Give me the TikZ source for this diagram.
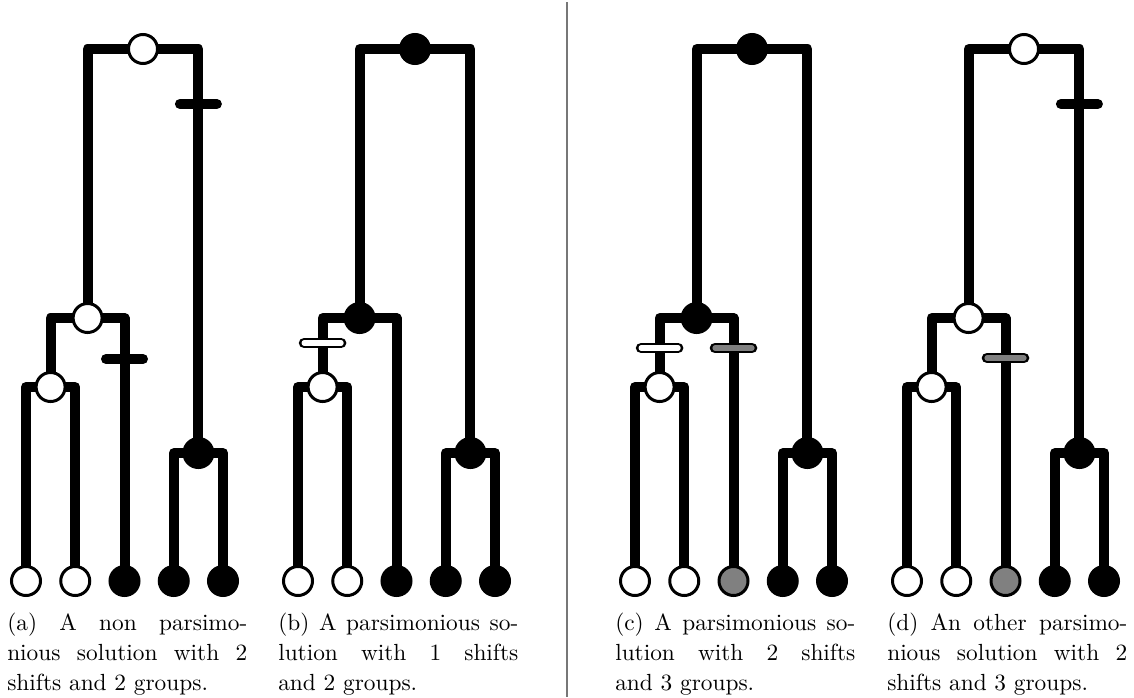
\documentclass[tikz,border=0pt]{standalone}
\usetikzlibrary{backgrounds}
\definecolor{shiftgray}{HTML}{808080}
\definecolor{sepgray}{HTML}{777777}
\newcommand\blackbar[2]{\draw[blackbarstyle] (#1-18.5,#2) -- (#1+18.5,#2);}
\newcommand\colbar[3]{\draw[barouter] (#1-18.5,#2) -- (#1+18.5,#2);
  \draw[barinner,#3] (#1-18.5,#2) -- (#1+18.5,#2);}
\newcommand\captxt[1]{\scalebox{1.75}{\parbox[t]{102.9pt}{\fontsize{10}{12.9}\selectfont #1}}}
\begin{document}
\begin{tikzpicture}[x=0.75pt,y=-0.75pt,
  edge/.style={line width=7.5pt,line cap=round,line join=round},
  tnode/.style={circle,draw=black,line width=2.25pt,inner sep=0pt,minimum size=21.75pt},
  wn/.style={tnode,fill=white},
  bn/.style={tnode,fill=black},
  gn/.style={tnode,fill=shiftgray},
  blackbarstyle/.style={line width=7.5pt,line cap=round},
  barouter/.style={line width=8pt,line cap=round,draw=black},
  barinner/.style={line width=3.9pt,line cap=round},
  captext/.style={inner sep=0pt,anchor=north west}]
\useasboundingbox (0,0) rectangle (1134,697);
\begin{scope}[on background layer]
  \fill[white] (0,0) rectangle (1134,697);
\end{scope}
% separator
\draw[sepgray,line width=1.5pt] (567,2) -- (567,697);

% ---------- tree (a) ----------
\node[wn] (a-l1) at (26,581) {};
\node[wn] (a-l2) at (75.25,581) {};
\node[bn] (a-l3) at (124.5,581) {};
\node[bn] (a-l4) at (173.75,581) {};
\node[bn] (a-l5) at (223,581) {};
\node[wn] (a-n1) at (50.6,387) {};
\node[wn] (a-n2) at (87.6,318) {};
\node[bn] (a-n3) at (198.4,453) {};
\node[wn] (a-r) at (143,49) {};
% ---------- tree (b) ----------
\begin{scope}[xshift=272*0.75pt]
\node[wn] (b-l1) at (26,581) {};
\node[wn] (b-l2) at (75.25,581) {};
\node[bn] (b-l3) at (124.5,581) {};
\node[bn] (b-l4) at (173.75,581) {};
\node[bn] (b-l5) at (223,581) {};
\node[wn] (b-n1) at (50.6,387) {};
\node[bn] (b-n2) at (87.6,318) {};
\node[bn] (b-n3) at (198.4,453) {};
\node[bn] (b-r) at (143,49) {};
\end{scope}
% ---------- tree (c) ----------
\begin{scope}[xshift=609*0.75pt]
\node[wn] (c-l1) at (26,581) {};
\node[wn] (c-l2) at (75.25,581) {};
\node[gn] (c-l3) at (124.5,581) {};
\node[bn] (c-l4) at (173.75,581) {};
\node[bn] (c-l5) at (223,581) {};
\node[wn] (c-n1) at (50.6,387) {};
\node[bn] (c-n2) at (87.6,318) {};
\node[bn] (c-n3) at (198.4,453) {};
\node[bn] (c-r) at (143,49) {};
\end{scope}
% ---------- tree (d) ----------
\begin{scope}[xshift=881*0.75pt]
\node[wn] (d-l1) at (26,581) {};
\node[wn] (d-l2) at (75.25,581) {};
\node[gn] (d-l3) at (124.5,581) {};
\node[bn] (d-l4) at (173.75,581) {};
\node[bn] (d-l5) at (223,581) {};
\node[wn] (d-n1) at (50.6,387) {};
\node[wn] (d-n2) at (87.6,318) {};
\node[bn] (d-n3) at (198.4,453) {};
\node[wn] (d-r) at (143,49) {};
\end{scope}

% edges
\begin{scope}[on background layer]
\foreach \t in {a,b,c,d}{
  \draw[edge] (\t-r.center) -| (\t-n2.center);
  \draw[edge] (\t-r.center) -| (\t-n3.center);
  \draw[edge] (\t-n2.center) -| (\t-n1.center);
  \draw[edge] (\t-n2.center) -| (\t-l3.center);
  \draw[edge] (\t-n1.center) -| (\t-l1.center);
  \draw[edge] (\t-n1.center) -| (\t-l2.center);
  \draw[edge] (\t-n3.center) -| (\t-l4.center);
  \draw[edge] (\t-n3.center) -| (\t-l5.center);
}
\end{scope}

% shift bars
\blackbar{198.4}{104}
\blackbar{124.5}{359}
\colbar{272+50.6}{343}{white}
\colbar{609+50.6}{348}{white}
\colbar{609+124.5}{348}{shiftgray}
\blackbar{881+198.4}{104}
\colbar{881+124.5}{358}{shiftgray}

% captions
\node[captext] (capa) at (7,613) {\captxt{(a) A non parsimo-\linebreak nious solution with 2\linebreak shifts and 2 groups.}};
\node[captext] (capb) at (278,613) {\captxt{(b) A parsimonious so-\linebreak lution with 1 shifts\linebreak and 2 groups.}};
\node[captext] (capc) at (615,613) {\captxt{(c) A parsimonious so-\linebreak lution with 2 shifts\linebreak and 3 groups.}};
\node[captext] (capd) at (887,613) {\captxt{(d) An other parsimo-\linebreak nious solution with 2\linebreak shifts and 3 groups.}};
\end{tikzpicture}
\end{document}
